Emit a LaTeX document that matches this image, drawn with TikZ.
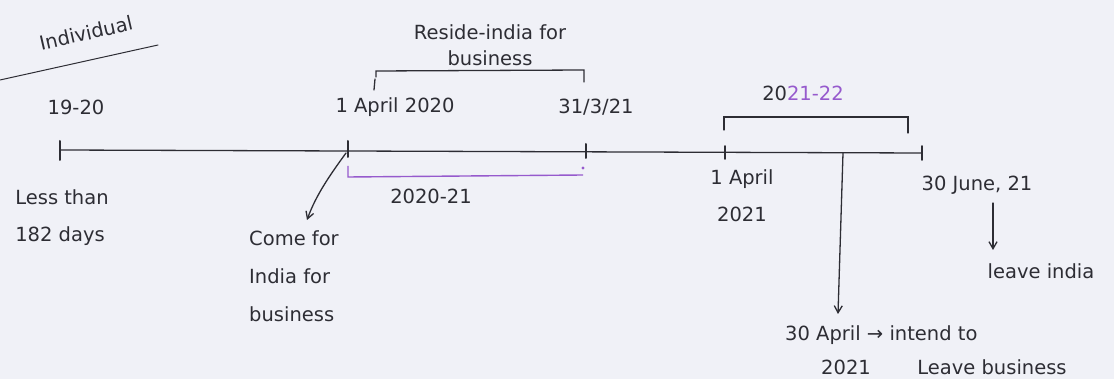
\documentclass[tikz,border=0pt]{standalone}
\usepackage{fontspec}
\setmainfont{DejaVu Sans}
\usetikzlibrary{arrows.meta}
\definecolor{ink}{RGB}{45,45,52}
\definecolor{pur}{RGB}{150,90,205}
\definecolor{paper}{RGB}{240,241,247}
\begin{document}
\begin{tikzpicture}[x=1pt,y=-1pt,
  lbl/.style={font=\fontsize{19.5}{37}\selectfont, text=ink, inner sep=1pt},
  ln/.style={draw=ink, line width=1.3pt, line cap=round},
  arr/.style={ln, -{Straight Barb[length=7pt,width=8pt]}}]
\fill[paper] (0,0) rectangle (1114,379);
\useasboundingbox (0,0) rectangle (1114,379);

% heading
\node[lbl, rotate=13] (indiv) at (86,33) {Individual};
\coordinate (u1) at (0,80);
\coordinate (u2) at (158,45);
\draw[ln, line width=1pt] (u1) -- (u2);

% timeline
\coordinate (t0) at (60,150);
\coordinate (t1) at (348,151);
\coordinate (t2) at (586,152);
\coordinate (t3) at (725,152);
\coordinate (t4) at (922,153);
\draw[ln] (t0) -- (t4);
\draw[ln, line width=2pt] (t0) ++(0,-9) -- ++(0,19);
\draw[ln, line width=2pt] (t1) ++(0,-10) -- ++(0,16);
\draw[ln, line width=2pt] (t2) ++(0,-8) -- ++(0,14);
\draw[ln, line width=1.6pt] (t3) ++(0,-6) -- ++(0,13);
\draw[ln, line width=1.6pt] (t4) ++(0,-7) -- ++(0,14);

% top labels
\node[lbl] (y1920) at (76,107) {19-20};
\node[lbl] (a2020) at (395,107) {1 April 2020};
\node[lbl] (d3103) at (596,107) {31/3/21};

% reside bracket
\node[lbl, align=center, font=\fontsize{19.5}{26}\selectfont] (res) at (490,45) {Reside-india for\\business};
\coordinate (b1) at (376,71);
\coordinate (b2) at (584,70);
\draw[ln] (b1) ++(0,6) -- (b1) -- (b2) -- ++(0,12);
\draw[ln] (375,79) -- (374,90);

% 2020-21 purple
\coordinate (p1) at (348,166);
\coordinate (p2) at (583,175);
\draw[draw=pur, line width=1.4pt] (p1) -- (348,177) -- (p2 |- 0,175);
\fill[pur] (583,168) circle (1.6pt);
\node[lbl] (fy2021) at (431,196) {2020-21};

% 2021-22 bracket
\node[lbl] (fy2122) at (803,93) {\color{ink}20\color{pur}21-22};
\coordinate (c1) at (724,117);
\coordinate (c2) at (908,117);
\draw[ln] (c1) ++(0,13) -- (c1) -- (c2) -- ++(0,16);

% bottom labels
\node[lbl, align=center] (a2021) at (742,196) {1 April\\2021};
\node[lbl, align=left] (less) at (62,218) {Less than\\182 days};
\node[lbl, align=left, font=\fontsize{19.5}{38}\selectfont] (come) at (294,276) {Come for\\India for\\business};
\node[lbl] (j30) at (977,185) {30 June, 21};
\node[lbl] (leave) at (1041,271) {leave india};

% arrows
\coordinate (cs) at (346,153);
\coordinate (ce) at (307,220);
\draw[arr] (cs) .. controls (330,175) and (316,195) .. (ce);
\coordinate (vs) at (843,153);
\coordinate (ve) at (838,314);
\draw[arr] (vs) -- (ve);
\coordinate (ds) at (993,203);
\coordinate (de) at (993,250);
\draw[arr] (ds) -- (de);

\node[lbl, anchor=west] (apr30) at (784,335) {30 April → intend to};
\node[lbl] (y2021) at (846,367) {2021};
\node[lbl] (lbus) at (992,367) {Leave business};
\end{tikzpicture}
\end{document}
